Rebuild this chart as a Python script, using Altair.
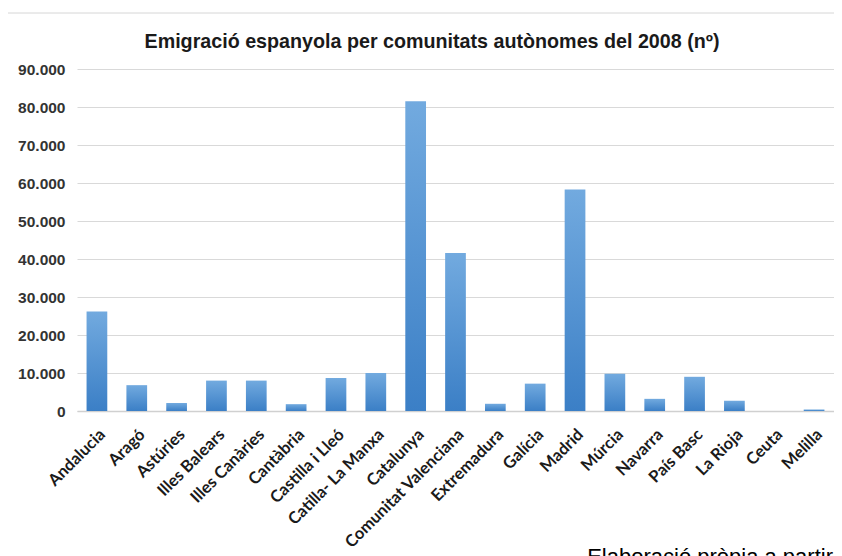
import altair as alt
import pandas as pd

categories = ["Andalucia", "Aragó", "Astúries", "Illes Balears", "Illes Canàries",
              "Cantàbria", "Castilla i Lleó", "Catilla- La Manxa", "Catalunya",
              "Comunitat Valenciana", "Extremadura", "Galícia", "Madrid", "Múrcia",
              "Navarra", "País Basc", "La Rioja", "Ceuta", "Melilla"]
values = [26200, 6800, 2100, 8000, 8000,
          1800, 8700, 10000, 81500,
          41600, 1900, 7200, 58300, 9800,
          3200, 9000, 2700, 0, 400]
y_ticks = [0, 10000, 20000, 30000, 40000, 50000, 60000, 70000, 80000, 90000]

title_text = "Emigració espanyola per comunitats autònomes del 2008 (nº)"
footer_text = "Elaboració pròpia a partir"

df = pd.DataFrame({"cat": categories, "val": values})

grad = alt.Gradient(
    gradient="linear",
    stops=[alt.GradientStop(color="#72aadf", offset=0),
           alt.GradientStop(color="#3b7fc6", offset=1)],
    x1=0, x2=0, y1=0, y2=1,
)

bars = alt.Chart(df).mark_bar(color=grad).encode(
    x=alt.X("cat:N", sort=categories, title=None,
            scale=alt.Scale(paddingInner=0.48, paddingOuter=0.24),
            axis=alt.Axis(labelAngle=-45, labelAlign="right", labelBaseline="top",
                          labelFont="Lato", labelFontSize=16.5, labelFontWeight="bold",
                          labelColor="#1a1a1a", labelPadding=15, ticks=False,
                          domainColor="#d0d0d0", domainWidth=1.5, grid=False)),
    y=alt.Y("val:Q", title=None,
            scale=alt.Scale(domain=[0, 90000], nice=False),
            axis=alt.Axis(values=y_ticks,
                          labelExpr="replace(format(datum.value, ','), ',', '.')",
                          labelFont="Liberation Sans", labelFontSize=15.5,
                          labelFontWeight="bold", labelColor="#333333",
                          labelPadding=12, ticks=False, domain=False,
                          gridColor="#d9d9d9", gridWidth=1)),
)

frame = alt.Chart(pd.DataFrame({"a": [0]})).mark_rect(
    fillOpacity=0, stroke="#d6d6d6", strokeWidth=1
).encode(x=alt.value(-70), x2=alt.value(800), y=alt.value(-56), y2=alt.value(620))

title = alt.Chart(pd.DataFrame({"t": [title_text]})).mark_text(
    align="center", baseline="middle", font="Liberation Sans", fontSize=19.7,
    fontWeight="bold", color="#1a1a1a"
).encode(text="t:N", x=alt.value(355), y=alt.value(-27))

footer = alt.Chart(pd.DataFrame({"t": [footer_text]})).mark_text(
    align="right", baseline="alphabetic", font="Liberation Sans", fontSize=22,
    color="#000000"
).encode(text="t:N", x=alt.value(756), y=alt.value(495))

chart = alt.layer(frame, bars, title, footer).properties(
    width=757, height=342,
    autosize=alt.AutoSizeParams(type="none"),
    padding={"left": 69, "top": 61, "right": 0, "bottom": 160},
).configure_view(stroke=None)

chart.save("out.html", embed_options={"renderer": "svg", "actions": False})
